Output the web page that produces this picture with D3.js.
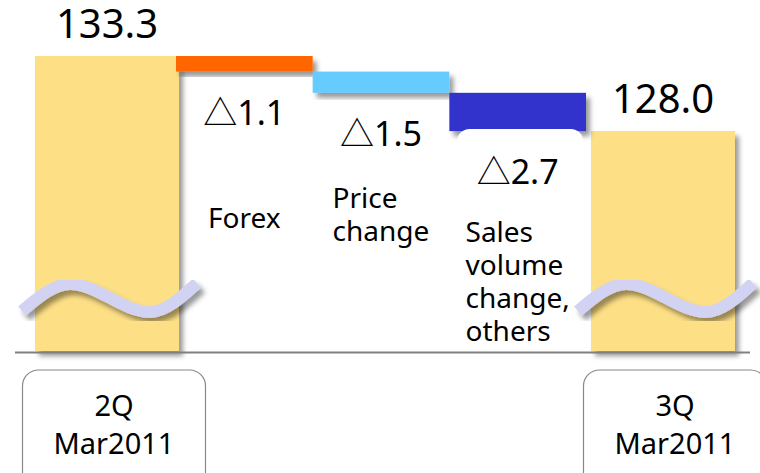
<!DOCTYPE html>
<html>
<head>
<meta charset="utf-8">
<script src="https://cdn.jsdelivr.net/npm/d3@7"></script>
<style>
  body { margin: 0; background: #fff; }
  text { font-family: "Noto Sans", "Noto Sans CJK JP", sans-serif; fill: #000; }
</style>
</head>
<body>
<div id="chart"></div>
<script>
// data
const periods = ["2Q Mar2011", "3Q Mar2011"];
const periodLines = [["2Q", "Mar2011"], ["3Q", "Mar2011"]];
const totals = [133.3, 128.0];
const changeNames = ["Forex", "Price change", "Sales volume change, others"];
const changeLines = [["Forex"], ["Price", "change"], ["Sales", "volume", "change,", "others"]];
const changes = [-1.1, -1.5, -2.7];
const changeColors = ["#ff6600", "#66ccff", "#3333cc"];

// layout
const width = 760, height = 473;
const baseY = 352;
const nameTop = [228, 208, 242];   // first baseline of each change name
const lineH = 33;
// break mark shape: offsets from bar centre / from the axis line
const waveShape = [[-88, -41], [-40, -68], [40, -40], [87, -69]];

const svg = d3.select("#chart")
  .append("svg")
    .attr("width", width)
    .attr("height", height);

const defs = svg.append("defs");
defs.append("filter")
    .attr("id", "shadow")
    .attr("x", "-10%").attr("y", "-10%")
    .attr("width", "130%").attr("height", "140%")
  .append("feDropShadow")
    .attr("dx", 4).attr("dy", 5)
    .attr("stdDeviation", 2.5)
    .attr("flood-color", "#000")
    .attr("flood-opacity", 0.4);

// broken value axis: bottom of the bars is not zero
const y = d3.scaleLinear()
  .domain([112.4, 133.3])
  .range([baseY, 56]);

// total bars sit at the two ends
const totalW = 144;
const totalX = [35, 735 - totalW];

// the change bars fill the gap between them
const x = d3.scaleBand()
  .domain(changeNames)
  .range([totalX[0] + totalW - 3, totalX[1] - 5]);

// running steps
let run = totals[0];
const steps = changes.map((c, i) => {
  const s = {name: changeNames[i], from: run, to: run + c, value: c, color: changeColors[i], lines: changeLines[i]};
  run += c;
  return s;
});

// total bars
const totalG = svg.append("g");
totalG.selectAll("rect")
  .data(totals)
  .join("rect")
    .attr("x", (d, i) => totalX[i])
    .attr("y", d => y(d))
    .attr("width", totalW)
    .attr("height", d => baseY - 1 - y(d))
    .attr("fill", "#fddf86")
    .attr("filter", "url(#shadow)");

totalG.selectAll("text")
  .data(totals)
  .join("text")
    .attr("x", (d, i) => totalX[i] + totalW / 2)
    .attr("y", d => y(d) - 18)
    .attr("text-anchor", "middle")
    .attr("font-size", 40)
    .text(d => d.toFixed(1));

// change bars
svg.append("g")
  .selectAll("rect")
  .data(steps)
  .join("rect")
    .attr("x", d => x(d.name))
    .attr("y", d => y(d.from))
    .attr("width", x.bandwidth())
    .attr("height", d => y(d.to) - y(d.from))
    .attr("fill", d => d.color)
    .attr("filter", "url(#shadow)");

// white label box under the last change bar
const last = steps[steps.length - 1];
svg.append("rect")
    .attr("x", x(last.name) + 8)
    .attr("y", y(last.to) - 2)
    .attr("width", x.bandwidth() - 11)
    .attr("height", 220)
    .attr("rx", 12)
    .attr("fill", "#fff");

// change values
svg.append("g")
  .selectAll("text")
  .data(steps)
  .join("text")
    .attr("x", d => x(d.name) + x.bandwidth() / 2)
    .attr("y", d => y(d.to) + 53)
    .attr("text-anchor", "middle")
    .attr("font-size", 34)
    .text(d => "\u25B3" + Math.abs(d.value).toFixed(1));

// change names, left aligned block centred on the bar
const nameG = svg.append("g")
  .selectAll("g")
  .data(steps)
  .join("g");

nameG.each(function(d, i) {
  const g = d3.select(this);
  const t = g.append("text").attr("font-size", 28);
  t.selectAll("tspan")
    .data(d.lines)
    .join("tspan")
      .attr("x", 0)
      .attr("y", (l, j) => nameTop[i] + j * lineH)
      .text(l => l);
  const w = t.node().getBBox().width;
  g.attr("transform", `translate(${x(d.name) + x.bandwidth() / 2 - w / 2},0)`);
});

// wavy break marks on the total bars
const wave = d3.line().curve(d3.curveMonotoneX);

svg.append("g")
  .selectAll("path")
  .data(totals)
  .join("path")
    .attr("d", (d, i) => {
      const c = totalX[i] + totalW / 2 + 3;
      return wave(waveShape.map(p => [c + p[0], baseY + p[1]]));
    })
    .attr("fill", "none")
    .attr("stroke", "#d2d2f2")
    .attr("stroke-width", 12)
    .attr("filter", "url(#shadow)");

// axis line
svg.append("line")
    .attr("x1", 15).attr("x2", 750)
    .attr("y1", baseY + 0.5).attr("y2", baseY + 0.5)
    .attr("stroke", "#808080")
    .attr("stroke-width", 2);

// period boxes
const boxW = 183;
const periodG = svg.append("g")
  .selectAll("g")
  .data(periods)
  .join("g")
    .attr("transform", (d, i) => `translate(${totalX[i] + totalW / 2 + 7 + (i ? 5 : 0)},0)`);

periodG.append("rect")
    .attr("x", -boxW / 2)
    .attr("y", 370)
    .attr("width", boxW)
    .attr("height", 130)
    .attr("rx", 16)
    .attr("fill", "#fff")
    .attr("stroke", "#888")
    .attr("stroke-width", 1.2);

periodG.append("text")
    .attr("text-anchor", "middle")
    .attr("font-size", 29)
  .selectAll("tspan")
  .data((d, i) => periodLines[i])
  .join("tspan")
    .attr("x", 0)
    .attr("y", (l, j) => 416 + j * 38)
    .text(l => l);
</script>
</body>
</html>
